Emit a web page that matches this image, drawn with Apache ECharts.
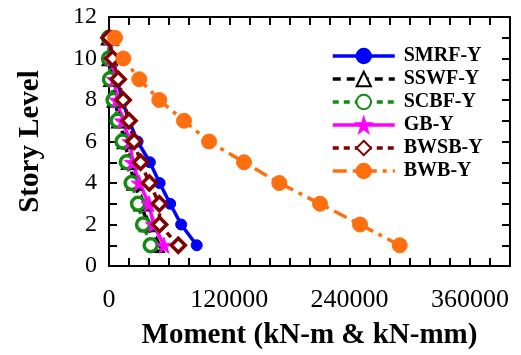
<!DOCTYPE html>
<html>
<head>
<meta charset="utf-8">
<script src="https://cdn.jsdelivr.net/npm/echarts@6/dist/echarts.min.js"></script>
<style>
  html, body { margin: 0; padding: 0; background: #fff; }
  #chart { width: 521px; height: 355px; }
</style>
</head>
<body>
<div id="chart"></div>
<script>
// story levels 1..11
const levels = [1, 2, 3, 4, 5, 6, 7, 8, 9, 10, 11];

// moments
const smrf = [87500, 72000, 61000, 50500, 40800, 28500, 20000, 13300, 7800, 3600, 300];
const sswf = [47500, 38000, 32500, 25500, 20000, 15800, 10300, 5900, 2400, 800, 0];
const scbf = [41600, 34000, 29000, 22600, 17800, 13500, 8600, 4600, 1000, 0, 0];
const gb = [54900, 44300, 39900, 30200, 23400, 21100, 13500, 7900, 5300, 2600, 0];
const bwsb = [69100, 50500, 50200, 40300, 31500, 25000, 20000, 14200, 9200, 3600, 0];
const bwb = [290000, 250400, 210500, 169900, 134700, 99800, 74800, 50200, 30200, 14300, 6000];

const xTickLabels = [0, 120000, 240000, 360000];

const FONT = "Liberation Serif";
const STAR = "path://M50,0 L61,35 L98,35 L68,57 L79,91 L50,70 L21,91 L32,57 L2,35 L39,35 Z";

function pairs(vals) {
  return vals.map((v, i) => [v, levels[i]]);
}

const chart = echarts.init(document.getElementById("chart"));

const seriesDefs = [
  { name: "SMRF-Y", data: smrf, color: "#0000ff", symbol: "circle", size: 11, dash: "solid", fill: "#0000ff" },
  { name: "SSWF-Y", data: sswf, color: "#000000", symbol: "triangle", size: 12, dash: [8, 6], fill: "#ffffff" },
  { name: "SCBF-Y", data: scbf, color: "#138a13", symbol: "circle", size: 13, dash: [6, 5], fill: "#ffffff" },
  { name: "GB-Y", data: gb, color: "#ff00ff", symbol: STAR, size: 16, dash: "solid", fill: "#ff00ff" },
  { name: "BWSB-Y", data: bwsb, color: "#800000", symbol: "diamond", size: 14, dash: [6, 5], fill: "#ffffff" },
  { name: "BWB-Y", data: bwb, color: "#ff6f0f", symbol: "circle", size: 15, dash: [14, 6, 4, 6], fill: "#ff6f0f" },
];

const series = seriesDefs.map(d => ({
  name: d.name,
  type: "line",
  data: pairs(d.data),
  symbol: d.symbol,
  symbolSize: d.size,
  clip: false,
  lineStyle: { color: d.color, width: 3.5, type: d.dash },
  itemStyle: { color: d.fill, borderColor: d.color, borderWidth: d.fill === "#ffffff" ? 3.5 : 1 },
  emphasis: { disabled: true },
  animation: false,
}));

const tickStyle = { show: true, inside: true, length: 8, lineStyle: { color: "#000", width: 2 } };
const lineStyle = { show: true, onZero: false, lineStyle: { color: "#000", width: 2 } };

chart.setOption({
  backgroundColor: "#fff",
  animation: false,
  grid: { left: 109, right: 11, top: 17, bottom: 86, containLabel: false },
  legend: {
    orient: "vertical",
    left: 331,
    top: 46,
    padding: 0,
    itemWidth: 62,
    itemHeight: 18,
    itemGap: 3,
    lineStyle: { width: 3.5 },
    textStyle: { fontFamily: FONT, fontWeight: "bold", fontSize: 20, color: "#000", lineHeight: 19, padding: [0, 0, 0, 4] },
    data: seriesDefs.map(d => d.name),
  },
  xAxis: [
    {
      type: "value",
      min: 0,
      max: 400000,
      interval: 20000,
      name: "Moment (kN-m & kN-mm)",
      nameLocation: "middle",
      nameGap: 55,
      nameTextStyle: { fontFamily: FONT, fontWeight: "bold", fontSize: 29, color: "#000" },
      axisLine: lineStyle,
      axisTick: tickStyle,
      splitLine: { show: false },
      axisLabel: {
        margin: 21,
        fontFamily: FONT,
        fontSize: 26,
        color: "#000",
        showMaxLabel: true,
        formatter: v => (xTickLabels.includes(v) ? String(v) : ""),
      },
    },
    {
      type: "value",
      position: "top",
      min: 0,
      max: 400000,
      interval: 20000,
      axisLine: lineStyle,
      axisTick: tickStyle,
      axisLabel: { show: false },
      splitLine: { show: false },
    },
  ],
  yAxis: [
    {
      type: "value",
      min: 0,
      max: 12,
      interval: 1,
      name: "Story Level",
      nameLocation: "middle",
      nameGap: 64,
      nameRotate: 90,
      nameTextStyle: { fontFamily: FONT, fontWeight: "bold", fontSize: 29, color: "#000" },
      axisLine: lineStyle,
      axisTick: tickStyle,
      splitLine: { show: false },
      axisLabel: {
        margin: 12,
        fontFamily: FONT,
        fontSize: 24,
        color: "#000",
        formatter: v => (v % 2 === 0 ? String(v) : ""),
      },
    },
    {
      type: "value",
      position: "right",
      min: 0,
      max: 12,
      interval: 1,
      axisLine: lineStyle,
      axisTick: tickStyle,
      axisLabel: { show: false },
      splitLine: { show: false },
    },
  ],
  series: series,
});
</script>
</body>
</html>
